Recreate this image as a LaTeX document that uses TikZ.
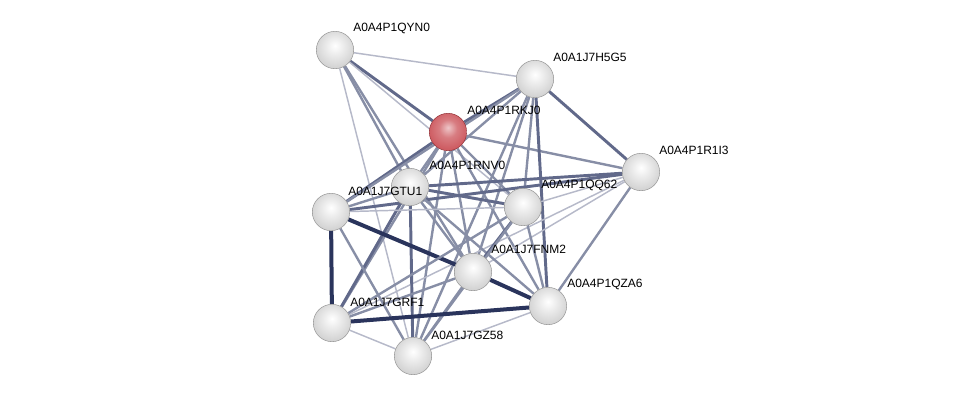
\documentclass[tikz,border=0pt]{standalone}
\usepackage{fontspec}
\setmainfont{Liberation Sans}
\usetikzlibrary{calc,backgrounds}
\definecolor{link}{RGB}{62,72,112}
\definecolor{linkdark}{RGB}{42,52,92}
\definecolor{redbody}{RGB}{206,92,98}
\definecolor{redrim}{RGB}{150,52,58}
\pgfdeclareradialshading{bead}{\pgfpoint{0bp}{6bp}}{%
  color(0bp)=(white); color(12bp)=(white!92!black); color(26bp)=(white!83!black);
  color(38bp)=(white!77!black); color(47bp)=(white!62!black); color(56bp)=(white!48!black)}
\pgfdeclareradialshading{beadred}{\pgfpoint{0bp}{6bp}}{%
  color(0bp)=(redbody!35!white); color(12bp)=(redbody!80!white); color(26bp)=(redbody);
  color(38bp)=(redbody!95!white); color(47bp)=(redrim!80!redbody); color(56bp)=(redrim)}

\begin{document}
\begin{tikzpicture}[
  x=0.75pt, y=-0.75pt,
  prot/.style={circle, minimum size=28pt, inner sep=0pt, shading=bead, draw=black!40, line width=0.4pt},
  query/.style={prot, shading=beadred, draw=redrim},
  tag/.style={anchor=west, inner sep=0pt, font=\fontsize{9}{10}\selectfont, text=black},
  weak/.style={draw=link!38, line width=1.1pt},
  mid/.style={draw=link!62, line width=1.8pt},
  strong/.style={draw=link!82, line width=2.2pt},
  heavy/.style={draw=linkdark, line width=3pt}
]
  \useasboundingbox (0,0) rectangle (976,402);

  % proteins
  \node[prot]  (qyn0) at (335,50)  {};
  \node[prot]  (h5g5) at (535,79)  {};
  \node[query] (rkj0) at (448,132) {};
  \node[prot]  (r1i3) at (641,172) {};
  \node[prot]  (rnv0) at (410,187) {};
  \node[prot]  (gtu1) at (331,212) {};
  \node[prot]  (qq62) at (523,207) {};
  \node[prot]  (fnm2) at (473,272) {};
  \node[prot]  (qza6) at (548,306) {};
  \node[prot]  (grf1) at (332,323) {};
  \node[prot]  (gz58) at (413,356) {};

  % names
  \node[tag] (qyn0-l) at ($(qyn0)+(18,-22)$) {A0A4P1QYN0};
  \node[tag] (h5g5-l) at ($(h5g5)+(18,-22)$) {A0A1J7H5G5};
  \node[tag] (rkj0-l) at ($(rkj0)+(19,-22)$) {A0A4P1RKJ0};
  \node[tag] (r1i3-l) at ($(r1i3)+(18,-22)$) {A0A4P1R1I3};
  \node[tag] (rnv0-l) at ($(rnv0)+(19,-22)$) {A0A4P1RNV0};
  \node[tag] (gtu1-l) at ($(gtu1)+(17,-21)$) {A0A1J7GTU1};
  \node[tag] (qq62-l) at ($(qq62)+(18,-22)$) {A0A4P1QQ62};
  \node[tag] (fnm2-l) at ($(fnm2)+(18,-23)$) {A0A1J7FNM2};
  \node[tag] (qza6-l) at ($(qza6)+(19,-22)$) {A0A4P1QZA6};
  \node[tag] (grf1-l) at ($(grf1)+(18,-21)$) {A0A1J7GRF1};
  \node[tag] (gz58-l) at ($(gz58)+(18,-21)$) {A0A1J7GZ58};

  % interactions
  \begin{scope}[on background layer]
    \draw[weak]   (qyn0) -- (h5g5);
    \draw[strong] (qyn0) -- (rkj0);
    \draw[weak]   (qyn0) -- (qq62);
    \draw[mid]    (qyn0) -- (rnv0);
    \draw[mid]    (qyn0) -- (fnm2);
    \draw[weak]   (qyn0) -- (gz58);

    \draw[strong] (rkj0) -- (h5g5);
    \draw[mid]    (rkj0) -- (r1i3);
    \draw[mid]    (rkj0) -- (rnv0);
    \draw[strong] (rkj0) -- (gtu1);
    \draw[mid]    (rkj0) -- (qq62);
    \draw[mid]    (rkj0) -- (fnm2);
    \draw[mid]    (rkj0) -- (qza6);
    \draw[mid]    (rkj0) -- (grf1);
    \draw[mid]    (rkj0) -- (gz58);

    \draw[strong] (h5g5) -- (r1i3);
    \draw[mid]    (h5g5) -- (gtu1);
    \draw[mid]    (h5g5) -- (rnv0);
    \draw[mid]    (h5g5) -- (qq62);
    \draw[strong] (h5g5) -- (qza6);
    \draw[mid]    (h5g5) -- (fnm2);
    \draw[mid]    (h5g5) -- (gz58);

    \draw[strong] (r1i3) -- (rnv0);
    \draw[strong] (r1i3) -- (gtu1);
    \draw[weak]   (r1i3) -- (qq62);
    \draw[weak]   (r1i3) -- (fnm2);
    \draw[mid]    (r1i3) -- (qza6);
    \draw[weak]   (r1i3) -- (grf1);

    \draw[mid]    (rnv0) -- (gtu1);
    \draw[strong] (rnv0) -- (qq62);
    \draw[mid]    (rnv0) -- (fnm2);
    \draw[mid]    (rnv0) -- (qza6);
    \draw[strong] (rnv0) -- (grf1);
    \draw[strong] (rnv0) -- (gz58);

    \draw[weak]   (gtu1) -- (qq62);
    \draw[heavy]  (gtu1) -- (fnm2);
    \draw[heavy]  (gtu1) -- (grf1);
    \draw[mid]    (gtu1) -- (gz58);

    \draw[strong] (qq62) -- (fnm2);
    \draw[mid]    (qq62) -- (qza6);
    \draw[mid]    (qq62) -- (grf1);
    \draw[mid]    (qq62) -- (gz58);

    \draw[heavy]  (fnm2) -- (qza6);
    \draw[mid]    (fnm2) -- (grf1);
    \draw[mid]    (fnm2) -- (gz58);

    \draw[heavy]  (qza6) -- (grf1);
    \draw[weak]   (qza6) -- (gz58);
    \draw[weak]   (grf1) -- (gz58);
  \end{scope}
\end{tikzpicture}
\end{document}
